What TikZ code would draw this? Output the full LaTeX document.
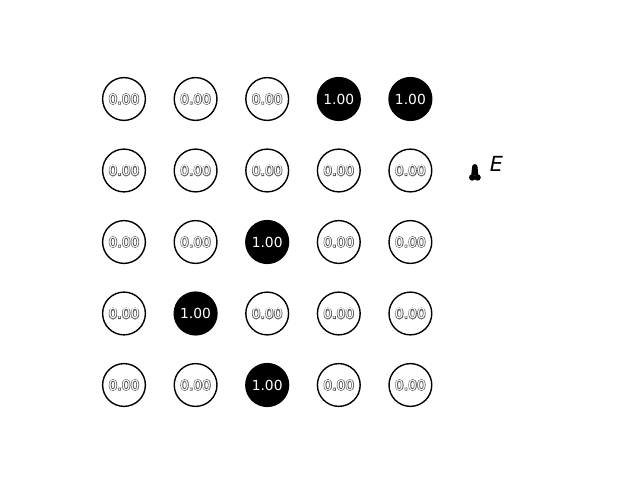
\documentclass[tikz,border=0pt]{standalone}
\usepackage{fontspec}
\setmainfont{DejaVu Sans}
\newfontfamily\oblfont{DejaVu Sans Oblique}
% white digits over a thin dark rim
\newcommand{\rimtext}[1]{\rlap{\special{pdf:code 1 Tr 1 w 0.35 G}#1\special{pdf:code 0 Tr 0 G}}#1}
\tikzset{
  cell/.style={circle, draw=black, line width=1pt, minimum size=30.9pt, inner sep=0pt, font=\fontsize{10}{12}\selectfont},
  cell0/.style={cell, fill=white, text=white},
  cell1/.style={cell, fill=black, text=white}
}
\newcommand{\celltext}[1]{\ifnum#1=0 \rimtext{0.00}\else 1.00\fi}
\begin{document}
\begin{tikzpicture}[x=0.01in, y=-0.01in]
  \useasboundingbox (0,0) rectangle (640,480);

  % Grid of cells
  \foreach \r/\va/\vb/\vc/\vd/\ve in {
    0/0/0/0/1/1,
    1/0/0/0/0/0,
    2/0/0/1/0/0,
    3/0/1/0/0/0,
    4/0/0/1/0/0} {
    \foreach \v [count=\c from 0] in {\va,\vb,\vc,\vd,\ve} {
      \node[cell\v] (cell-\r-\c) at (124+71.6*\c, 99+71.5*\r) {\celltext{\v}};
    }
  }

  % Marker
  \fill[black] (474.8,166.8) circle (2.7);
  \fill[black] (472.2,177.5) circle (3.2);
  \fill[black] (477.6,177.5) circle (3.2);
  \fill[black] (472.1,166.8) -- (477.5,166.8) -- (478.4,175.5) -- (471.2,175.5) -- cycle;
  \node[font=\fontsize{15}{17}\selectfont\oblfont, anchor=base west, inner sep=0pt] (labelE) at (489.5,171.8) {E};
\end{tikzpicture}
\end{document}
